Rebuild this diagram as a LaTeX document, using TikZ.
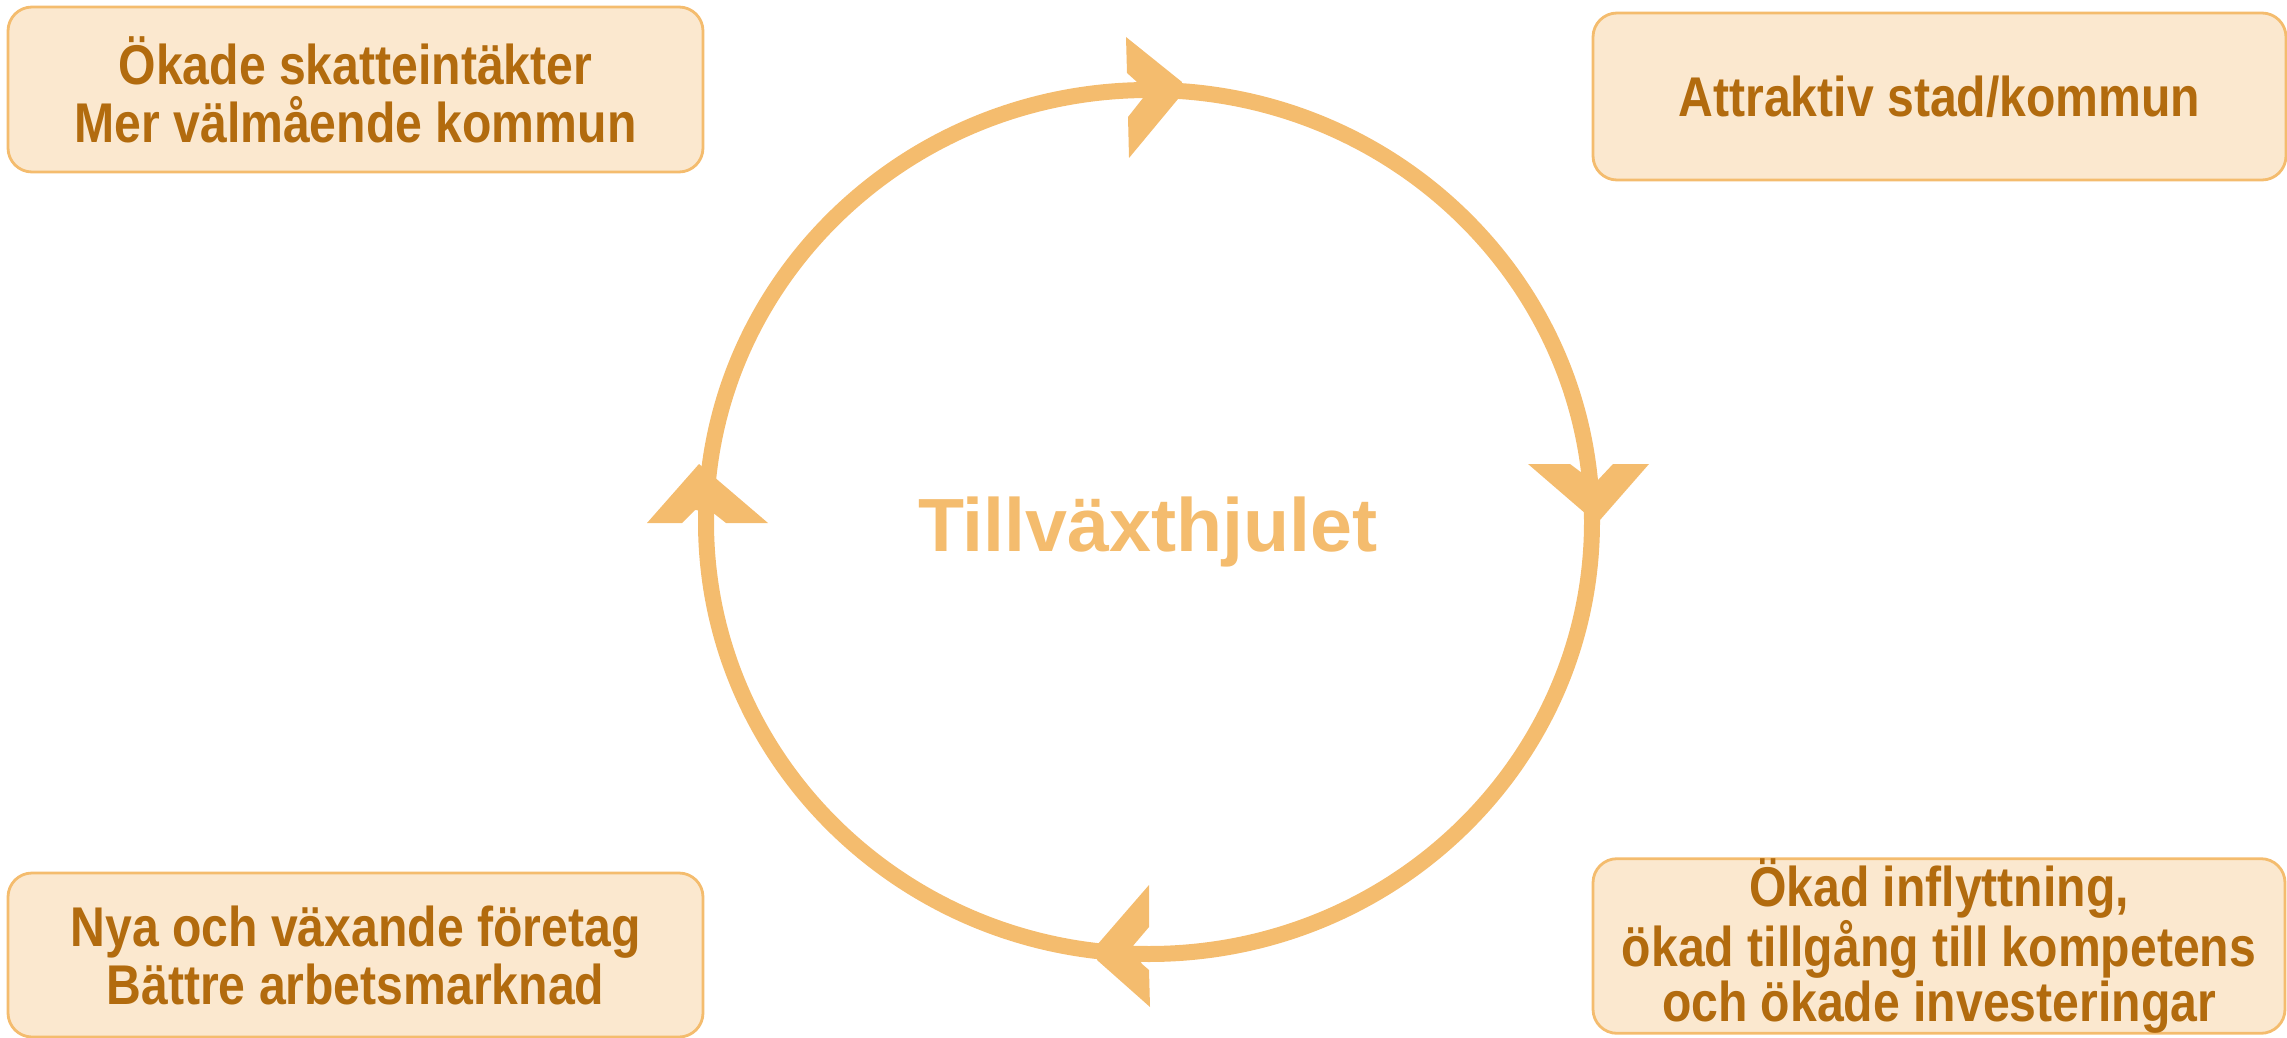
\documentclass[tikz,border=0pt]{standalone}
\usepackage{fontspec}
\setmainfont{Liberation Sans}
\newfontfamily\narrowfont[FakeStretch=0.86]{Liberation Sans}
\definecolor{wheel}{RGB}{244,188,110}
\definecolor{boxfill}{RGB}{251,232,207}
\definecolor{boxtext}{RGB}{178,107,14}
\begin{document}
\begin{tikzpicture}[x=0.5pt,y=-0.5pt,
  infobox/.style={draw=wheel,line width=1.4pt,fill=boxfill,rounded corners=12pt,
    text=boxtext,align=center,inner sep=0pt,
    font=\narrowfont\bfseries\fontsize{28pt}{29pt}\selectfont},
  headfill/.style={fill=wheel,draw=none},
  hubtext/.style={text=wheel,inner sep=0pt,anchor=base,
    font=\bfseries\fontsize{37.7pt}{45pt}\selectfont}]
\useasboundingbox (0,0) rectangle (2287,1038);

% boxes
\node[infobox,minimum width=347.5pt,minimum height=82.5pt] (tl) at (355.5,89.5)
  {Ökade skatteintäkter\\Mer välmående kommun};
\node[infobox,minimum width=346.5pt,minimum height=83.5pt] (tr) at (1939.5,96.5)
  {Attraktiv stad/kommun};
\node[infobox,minimum width=347.5pt,minimum height=82pt] (bl) at (355.5,955)
  {Nya och växande företag\\Bättre arbetsmarknad};
\node[infobox,minimum width=346pt,minimum height=84pt,
  font=\narrowfont\bfseries\fontsize{28pt}{27.5pt}\selectfont] (br) at (1939,946)
  {Ökad inflyttning,\\ökad tillgång till kompetens\\och ökade investeringar};

% wheel
\coordinate (hub) at (1149,522);
\draw[wheel,line width=8pt] (hub) ellipse [x radius=221.5pt, y radius=216pt];
\node[hubtext] (title) at (1148,551) {Tillväxthjulet};

% arrow heads
\fill[headfill] (1126,37) -- (1127,73) -- (1137,82) -- (1143,98) -- (1128,117)
  -- (1129,158) -- (1178,99) -- (1182,82) -- cycle;
\fill[headfill] (1528,464) -- (1570,464) -- (1582,473) -- (1598,480) -- (1613,464)
  -- (1649,464) -- (1600,520) -- (1586,514) -- cycle;
\fill[headfill] (1149,885) -- (1149,927) -- (1132,947) -- (1142,964) -- (1149,970)
  -- (1150,1007) -- (1097,960) -- (1097,945) -- cycle;
\fill[headfill] (647,523) -- (682,523) -- (695,510) -- (712,512) -- (726,523)
  -- (768,523) -- (713,476) -- (699,464) -- cycle;
\end{tikzpicture}
\end{document}
